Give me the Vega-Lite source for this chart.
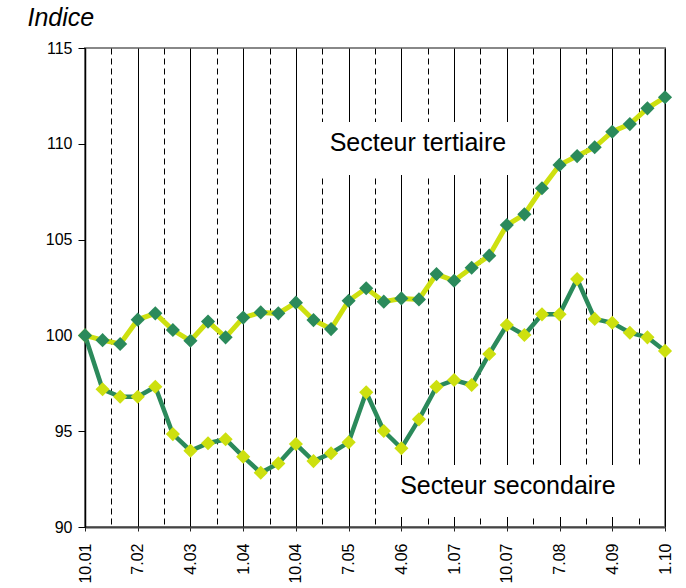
{
  "$schema": "https://vega.github.io/schema/vega-lite/v6.json",
  "width": 580,
  "height": 479,
  "autosize": {"type": "none"},
  "padding": {"left": 85, "top": 48, "right": 21, "bottom": 61},
  "background": "white",
  "config": {
    "font": "Liberation Sans",
    "view": {"stroke": "#888888", "strokeWidth": 2}
  },
  "resolve": {"axis": {"x": "independent"}},
  "datasets": {
    "series": [
      {"t": 0, "q": "10.01", "tertiaire": 100.0, "secondaire": 100.0},
      {"t": 1, "q": "1.02", "tertiaire": 99.75, "secondaire": 97.19},
      {"t": 2, "q": "4.02", "tertiaire": 99.55, "secondaire": 96.8},
      {"t": 3, "q": "7.02", "tertiaire": 100.82, "secondaire": 96.8},
      {"t": 4, "q": "10.02", "tertiaire": 101.15, "secondaire": 97.32},
      {"t": 5, "q": "1.03", "tertiaire": 100.28, "secondaire": 94.85},
      {"t": 6, "q": "4.03", "tertiaire": 99.72, "secondaire": 93.98},
      {"t": 7, "q": "7.03", "tertiaire": 100.72, "secondaire": 94.37},
      {"t": 8, "q": "10.03", "tertiaire": 99.9, "secondaire": 94.58},
      {"t": 9, "q": "1.04", "tertiaire": 100.93, "secondaire": 93.67},
      {"t": 10, "q": "4.04", "tertiaire": 101.2, "secondaire": 92.83},
      {"t": 11, "q": "7.04", "tertiaire": 101.15, "secondaire": 93.32},
      {"t": 12, "q": "10.04", "tertiaire": 101.71, "secondaire": 94.33},
      {"t": 13, "q": "1.05", "tertiaire": 100.8, "secondaire": 93.44},
      {"t": 14, "q": "4.05", "tertiaire": 100.33, "secondaire": 93.85},
      {"t": 15, "q": "7.05", "tertiaire": 101.81, "secondaire": 94.42},
      {"t": 16, "q": "10.05", "tertiaire": 102.46, "secondaire": 97.03},
      {"t": 17, "q": "1.06", "tertiaire": 101.76, "secondaire": 95.01},
      {"t": 18, "q": "4.06", "tertiaire": 101.93, "secondaire": 94.11},
      {"t": 19, "q": "7.06", "tertiaire": 101.88, "secondaire": 95.62},
      {"t": 20, "q": "10.06", "tertiaire": 103.2, "secondaire": 97.32},
      {"t": 21, "q": "1.07", "tertiaire": 102.85, "secondaire": 97.67},
      {"t": 22, "q": "4.07", "tertiaire": 103.53, "secondaire": 97.41},
      {"t": 23, "q": "7.07", "tertiaire": 104.16, "secondaire": 99.03},
      {"t": 24, "q": "10.07", "tertiaire": 105.76, "secondaire": 100.54},
      {"t": 25, "q": "1.08", "tertiaire": 106.32, "secondaire": 100.02},
      {"t": 26, "q": "4.08", "tertiaire": 107.68, "secondaire": 101.1},
      {"t": 27, "q": "7.08", "tertiaire": 108.9, "secondaire": 101.1},
      {"t": 28, "q": "10.08", "tertiaire": 109.36, "secondaire": 102.94},
      {"t": 29, "q": "1.09", "tertiaire": 109.82, "secondaire": 100.86},
      {"t": 30, "q": "4.09", "tertiaire": 110.63, "secondaire": 100.66},
      {"t": 31, "q": "7.09", "tertiaire": 111.03, "secondaire": 100.14},
      {"t": 32, "q": "10.09", "tertiaire": 111.85, "secondaire": 99.9},
      {"t": 33, "q": "1.10", "tertiaire": 112.43, "secondaire": 99.19}
    ],
    "boxes": [
      {"t1": 13.4, "t2": 24.45, "v1": 108.37, "v2": 111.14},
      {"t1": 17.1, "t2": 32.9, "v1": 90.52, "v2": 93.24}
    ],
    "labels": [
      {"t": 18.94, "v": 110.04, "label": "Secteur tertiaire"},
      {"t": 24.06, "v": 92.14, "label": "Secteur secondaire"}
    ]
  },
  "layer": [
    {
      "data": {"name": "boxes"},
      "mark": {"type": "rect", "fill": "white", "stroke": null},
      "encoding": {
        "x": {
          "field": "t1", "type": "quantitative",
          "scale": {"domain": [0, 33], "nice": false, "zero": false},
          "axis": {
            "orient": "bottom",
            "values": [0, 3, 6, 9, 12, 15, 18, 21, 24, 27, 30, 33],
            "labelExpr": "['10.01','7.02','4.03','1.04','10.04','7.05','4.06','1.07','10.07','7.08','4.09','1.10'][round(datum.value / 3)]",
            "title": null,
            "grid": true,
            "gridColor": "black",
            "gridWidth": 1,
            "gridOpacity": 1,
            "tickColor": "#222222",
            "tickSize": 4,
            "domainColor": "#444444",
            "domainWidth": 2,
            "labelAngle": 270,
            "labelAlign": "right",
            "labelBaseline": "middle",
            "labelPadding": 12,
            "labelFontSize": 16,
            "labelColor": "black",
            "labelFont": "Liberation Sans",
            "labelOverlap": false,
            "labelFlush": false
          }
        },
        "x2": {"field": "t2"},
        "y": {
          "field": "v1", "type": "quantitative",
          "scale": {"domain": [90, 115], "nice": false, "zero": false},
          "axis": {
            "values": [90, 95, 100, 105, 110, 115],
            "grid": false,
            "title": "Indice",
            "titleAngle": 0,
            "titleX": -58,
            "titleY": -23,
            "titleAlign": "left",
            "titleBaseline": "alphabetic",
            "titleFont": "Liberation Sans",
            "titleFontSize": 25,
            "titleFontStyle": "italic",
            "titleFontWeight": "normal",
            "titleColor": "black",
            "domainColor": "black",
            "domainWidth": 1.5,
            "tickColor": "black",
            "tickSize": 7,
            "labelPadding": 6,
            "labelFontSize": 16,
            "labelColor": "black",
            "labelFont": "Liberation Sans",
            "labelFlush": false
          }
        },
        "y2": {"field": "v2"}
      }
    },
    {
      "data": {"name": "series"},
      "mark": {
        "type": "line",
        "color": "#2b8a5b",
        "strokeWidth": 4.5,
        "point": {"shape": "diamond", "filled": true, "color": "#cde00f", "size": 200, "opacity": 1}
      },
      "encoding": {
        "x": {
          "field": "t", "type": "quantitative",
          "axis": {
            "orient": "bottom",
            "values": [1.5, 4.5, 7.5, 10.5, 13.5, 16.5, 19.5, 22.5, 25.5, 28.5, 31.5],
            "title": null,
            "grid": true,
            "gridColor": "black",
            "gridWidth": 1,
            "gridOpacity": 1,
            "gridDash": [6, 4],
            "ticks": false,
            "labels": false,
            "domain": false
          }
        },
        "y": {"field": "secondaire", "type": "quantitative"}
      }
    },
    {
      "data": {"name": "series"},
      "mark": {
        "type": "line",
        "color": "#cde00f",
        "strokeWidth": 5,
        "point": {"shape": "diamond", "filled": true, "color": "#2b8a5b", "size": 200, "opacity": 1}
      },
      "encoding": {
        "x": {"field": "t", "type": "quantitative", "axis": null},
        "y": {"field": "tertiaire", "type": "quantitative"}
      }
    },
    {
      "data": {"name": "labels"},
      "mark": {"type": "text", "font": "Liberation Sans", "fontSize": 25, "color": "black", "align": "center", "baseline": "middle"},
      "encoding": {
        "x": {"field": "t", "type": "quantitative", "axis": null},
        "y": {"field": "v", "type": "quantitative"},
        "text": {"field": "label"}
      }
    }
  ]
}
